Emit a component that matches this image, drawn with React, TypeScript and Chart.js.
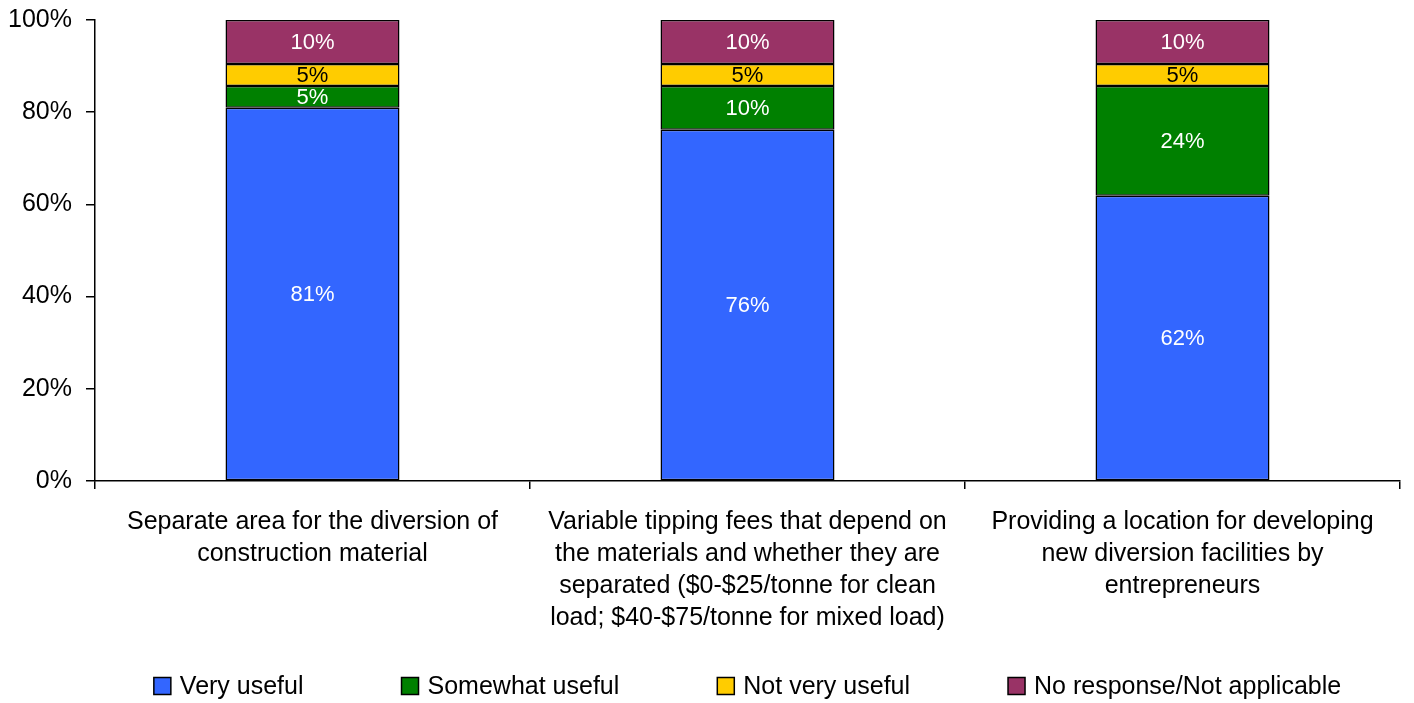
import React, { useEffect, useRef } from "react";
import { Chart, registerables } from "chart.js";

Chart.register(...registerables);

const categories: string[][] = [
  ["Separate area for the diversion of", "construction material"],
  [
    "Variable tipping fees that depend on",
    "the materials and whether they are",
    "separated ($0-$25/tonne for clean",
    "load; $40-$75/tonne for mixed load)",
  ],
  ["Providing a location for developing", "new diversion facilities by", "entrepreneurs"],
];

const seriesNames = ["Very useful", "Somewhat useful", "Not very useful", "No response/Not applicable"];
const veryUseful = [80.95, 76.19, 61.9];
const somewhatUseful = [4.76, 9.52, 23.81];
const notVeryUseful = [4.76, 4.76, 4.76];
const noResponse = [9.52, 9.52, 9.52];
const yTicks = [0, 20, 40, 60, 80, 100];

const colors = ["#3366FF", "#008000", "#FFCC00", "#993366"];
const labelColors = ["#FFFFFF", "#FFFFFF", "#000000", "#FFFFFF"];

const FONT = "'Liberation Sans', Arial, sans-serif";

const dataLabelPlugin = {
  id: "dataLabels",
  afterDatasetsDraw(chart: any) {
    const ctx = chart.ctx;
    ctx.save();
    ctx.font = `22px ${FONT}`;
    ctx.textAlign = "center";
    ctx.textBaseline = "middle";
    chart.data.datasets.forEach((ds: any, di: number) => {
      const meta = chart.getDatasetMeta(di);
      meta.data.forEach((el: any, i: number) => {
        const { x, y, base } = el.getProps(["x", "y", "base"], true);
        const v = ds.data[i];
        ctx.fillStyle = labelColors[di];
        ctx.fillText(Math.round(v) + "%", x, (y + base) / 2 + 1);
      });
    });
    ctx.restore();
  },
};

// Legend drawn below the axis labels, centred on the plot area
const legendPlugin = {
  id: "bottomLegend",
  afterDraw(chart: any) {
    const ctx = chart.ctx;
    const box = 17;
    const textGap = 9;
    const itemGap = 98;
    const centerY = chart.height - 17;
    ctx.save();
    ctx.font = `25px ${FONT}`;
    ctx.textBaseline = "middle";
    ctx.textAlign = "left";
    const items = chart.data.datasets.map((ds: any) => ({
      text: ds.label as string,
      color: ds.backgroundColor as string,
      w: ctx.measureText(ds.label).width,
    }));
    const total =
      items.reduce((s: number, it: any) => s + box + textGap + it.w, 0) + itemGap * (items.length - 1);
    const ca = chart.chartArea;
    let x = (ca.left + ca.right) / 2 - total / 2;
    items.forEach((it: any) => {
      ctx.fillStyle = it.color;
      ctx.fillRect(x, centerY - box / 2, box, box);
      ctx.strokeStyle = "#000000";
      ctx.lineWidth = 1.5;
      ctx.strokeRect(x, centerY - box / 2, box, box);
      ctx.fillStyle = "#000000";
      ctx.fillText(it.text, x + box + textGap, centerY + 1);
      x += box + textGap + it.w + itemGap;
    });
    ctx.restore();
  },
};

export default function App() {
  const ref = useRef<HTMLCanvasElement>(null);
  useEffect(() => {
    if (!ref.current) return;
    const seriesValues = [veryUseful, somewhatUseful, notVeryUseful, noResponse];
    const chart = new Chart(ref.current, {
      type: "bar",
      data: {
        labels: categories,
        datasets: seriesNames.map((name, i) => ({
          label: name,
          data: seriesValues[i],
          backgroundColor: colors[i],
          borderColor: "#000000",
          borderWidth: 1.5,
          borderSkipped: false,
          barPercentage: 0.4,
          categoryPercentage: 1,
        })),
      },
      options: {
        animation: false,
        responsive: false,
        devicePixelRatio: 1,
        layout: { padding: { left: 0, right: 14, top: 20, bottom: 62 } },
        plugins: {
          tooltip: { enabled: false },
          legend: { display: false },
        },
        scales: {
          x: {
            stacked: true,
            afterFit: (s: any) => {
              s.height = 160;
            },
            grid: {
              display: true,
              drawOnChartArea: false,
              drawTicks: true,
              tickLength: 8,
              color: "#000000",
              lineWidth: 1.5,
            },
            border: { display: true, color: "#000000", width: 1.5 },
            ticks: {
              color: "#000000",
              font: { family: FONT, size: 25, lineHeight: 1.28 },
              maxRotation: 0,
              autoSkip: false,
              padding: 17,
            },
          },
          y: {
            stacked: true,
            min: 0,
            max: 100,
            afterFit: (s: any) => {
              s.width = 95;
            },
            afterBuildTicks: (s: any) => {
              s.ticks = yTicks.map((v) => ({ value: v }));
            },
            grid: {
              display: true,
              drawOnChartArea: false,
              drawTicks: true,
              tickLength: 9,
              color: "#000000",
              lineWidth: 1.5,
            },
            border: { display: true, color: "#000000", width: 1.5 },
            ticks: {
              color: "#000000",
              font: { family: FONT, size: 25, lineHeight: 0.4 },
              padding: 14,
              callback: (v: any) => v + "%",
            },
          },
        },
      },
      plugins: [dataLabelPlugin, legendPlugin],
    });
    return () => chart.destroy();
  }, []);

  return (
    <div style={{ position: "fixed", left: 0, top: 0, width: 1414, height: 703, background: "#fff" }}>
      <canvas ref={ref} width={1414} height={703} style={{ width: 1414, height: 703 }} />
    </div>
  );
}
